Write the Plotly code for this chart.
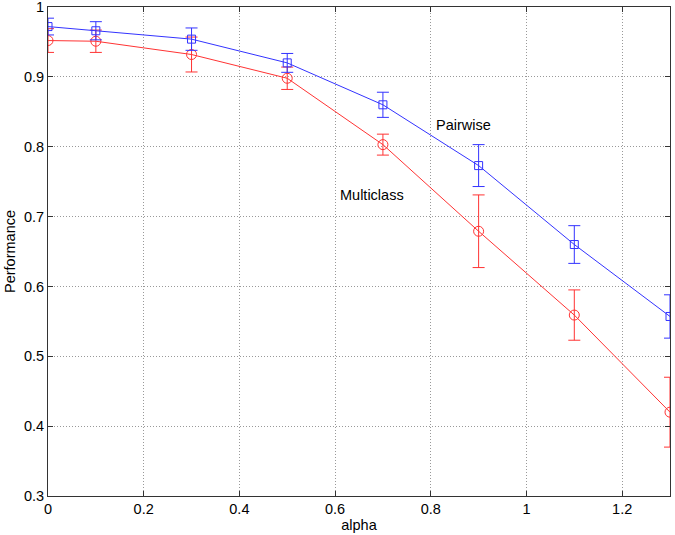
import plotly.graph_objects as go

alpha = [0, 0.1, 0.3, 0.5, 0.7, 0.9, 1.1, 1.3]
pairwise = [0.972, 0.966, 0.954, 0.920, 0.860, 0.773, 0.660, 0.557]
pairwise_err = [0.012, 0.013, 0.016, 0.0135, 0.018, 0.030, 0.027, 0.031]
multiclass = [0.952, 0.951, 0.932, 0.898, 0.803, 0.679, 0.559, 0.420]
multiclass_err = [0.017, 0.016, 0.025, 0.016, 0.015, 0.052, 0.036, 0.050]

x_ticks = [0, 0.2, 0.4, 0.6, 0.8, 1, 1.2]
x_ticklabels = ["0", "0.2", "0.4", "0.6", "0.8", "1", "1.2"]
y_ticks = [0.3, 0.4, 0.5, 0.6, 0.7, 0.8, 0.9, 1]
y_ticklabels = ["0.3", "0.4", "0.5", "0.6", "0.7", "0.8", "0.9", "1"]

font = dict(family="Liberation Sans, Arial, sans-serif", size=14.5, color="black")

fig = go.Figure()
fig.add_trace(go.Scatter(
    x=alpha, y=multiclass, mode="lines+markers", name="Multiclass",
    line=dict(color="#ff3333", width=1),
    marker=dict(symbol="circle-open", size=10, color="#ff3333", line=dict(width=1)),
    error_y=dict(type="data", array=multiclass_err, color="#ff3333", thickness=1, width=6),
))
fig.add_trace(go.Scatter(
    x=alpha, y=pairwise, mode="lines+markers", name="Pairwise",
    line=dict(color="#3333ff", width=1),
    marker=dict(symbol="square-open", size=8, color="#3333ff", line=dict(width=1)),
    error_y=dict(type="data", array=pairwise_err, color="#3333ff", thickness=1, width=6),
))

fig.add_annotation(x=0.806, y=0.831, text="Pairwise", showarrow=False,
                   xanchor="left", yanchor="middle", font=font)
fig.add_annotation(x=0.607, y=0.731, text="Multiclass", showarrow=False,
                   xanchor="left", yanchor="middle", font=font)

axis_common = dict(
    showline=True, linecolor="#333333", linewidth=1, mirror="ticks",
    ticks="inside", ticklen=5, tickcolor="#333333",
    showgrid=True, gridcolor="#999999", griddash="1px,2px", gridwidth=1,
    zeroline=False, tickfont=font, ticklabeloverflow="allow", automargin=False,
)
fig.update_xaxes(range=[0, 1.30001], tickvals=x_ticks, ticktext=x_ticklabels,
                 title=dict(text="alpha", font=font, standoff=2), **axis_common)
fig.update_yaxes(range=[0.3, 1.00001], tickvals=y_ticks, ticktext=y_ticklabels,
                 title=dict(text="Performance", font=font, standoff=4), **axis_common)

fig.update_layout(
    width=675, height=535, showlegend=False,
    margin=dict(l=48, r=5, t=7, b=39),
    paper_bgcolor="white", plot_bgcolor="white", font=font,
)
fig.write_html("out.html")
